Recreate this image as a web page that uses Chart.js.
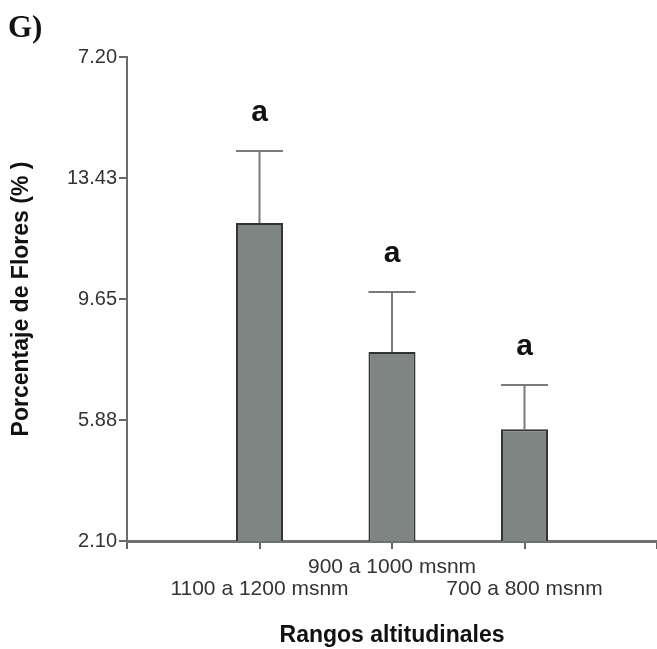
<!DOCTYPE html>
<html>
<head>
<meta charset="utf-8">
<script src="https://cdn.jsdelivr.net/npm/chart.js@4.4.1/dist/chart.umd.min.js"></script>
<style>
  body { margin: 0; background: #fff; }
  #wrap { position: relative; width: 657px; height: 649px; }
  #panel { position: absolute; left: 8px; top: 9px; font: bold 31px "Liberation Serif", "DejaVu Serif", serif; color: #111; }
</style>
</head>
<body>
<div id="wrap">
  <canvas id="chart" width="657" height="649"></canvas>
  <div id="panel">G)</div>
</div>
<script>
// categories (empty slots at both ends, like the original axis)
const categories = ['', '1100 a 1200 msnm', '900 a 1000 msnm', '700 a 800 msnm', ''];
const labelRow = [0, 1, 0, 1, 0];          // staggered tick labels
const means = [null, 12.02, 8.00, 5.59, null];
const errTop = [null, 14.27, 9.87, 6.97, null];
const letters = ['', 'a', 'a', 'a', ''];
const yTickLabels = ['2.10', '5.88', '9.65', '13.43', '7.20'];

const labels = categories.map((c, i) => labelRow[i] ? ['', c] : [c, '']);

// error bars + significance letters
const errorBars = {
    id: 'errorBars',
    afterDatasetsDraw(chart) {
        const ctx = chart.ctx;
        const y = chart.scales.y;
        const meta = chart.getDatasetMeta(0);
        ctx.save();
        meta.data.forEach((bar, i) => {
            if (errTop[i] == null) return;
            const x = bar.x;
            const half = bar.width / 2;
            const yTop = y.getPixelForValue(errTop[i]);
            ctx.strokeStyle = '#7a7a7a';
            ctx.lineWidth = 2;
            ctx.beginPath();
            ctx.moveTo(x, bar.y);
            ctx.lineTo(x, yTop);
            ctx.moveTo(x - half, yTop);
            ctx.lineTo(x + half, yTop);
            ctx.stroke();
            ctx.fillStyle = '#111';
            ctx.font = 'bold 30px "Liberation Sans", Arial, sans-serif';
            ctx.textAlign = 'center';
            ctx.textBaseline = 'middle';
            ctx.fillText(letters[i], x, yTop - 38);
        });
        ctx.restore();
    }
};

new Chart(document.getElementById('chart'), {
    type: 'bar',
    data: {
        labels: labels,
        datasets: [{
            data: means,
            backgroundColor: '#7f8583',
            borderColor: '#333',
            borderWidth: 2,
            barPercentage: 0.355,
            categoryPercentage: 1
        }]
    },
    options: {
        responsive: false,
        animation: false,
        layout: { padding: { top: 57, right: 0, left: 0, bottom: 0 } },
        plugins: { legend: { display: false }, tooltip: { enabled: false } },
        scales: {
            x: {
                offset: false,
                grid: { offset: false, drawOnChartArea: false, color: '#666', tickLength: 8, lineWidth: 2 },
                border: { color: '#707070', width: 3 },
                ticks: {
                    color: '#333', padding: 7, maxRotation: 0, autoSkip: false,
                    font: { family: '"Liberation Sans", Arial, sans-serif', size: 21, lineHeight: 1.05 }
                },
                title: {
                    display: true, text: 'Rangos altitudinales', color: '#111',
                    padding: { top: 0, bottom: 0 },
                    font: { family: '"Liberation Sans", Arial, sans-serif', size: 23, weight: 'bold', lineHeight: 1.2 }
                },
                afterFit: s => { s.height = 108; s.paddingLeft = 0; s.paddingRight = 0; }
            },
            y: {
                min: 2.1,
                max: 17.2,
                grid: { drawOnChartArea: false, color: '#666', tickLength: 8, lineWidth: 2 },
                border: { color: '#6b6b6b', width: 2 },
                ticks: {
                    stepSize: 3.775, color: '#333', padding: 2,
                    font: { family: '"Liberation Sans", Arial, sans-serif', size: 20 },
                    callback: (v, i) => yTickLabels[i]
                },
                title: {
                    display: true, text: 'Porcentaje de Flores (% )', color: '#111',
                    padding: { top: 8, bottom: 0 },
                    font: { family: '"Liberation Sans", Arial, sans-serif', size: 23, weight: 'bold', lineHeight: 1.2 }
                },
                afterFit: s => { s.width = 127; }
            }
        }
    },
    plugins: [errorBars]
});
</script>
</body>
</html>
